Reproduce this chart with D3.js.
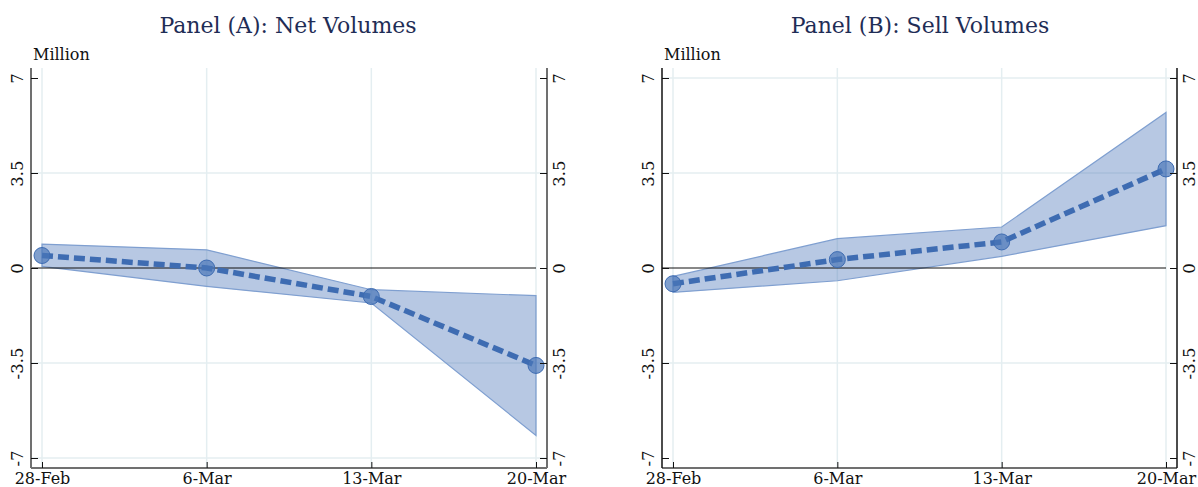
<!DOCTYPE html>
<html><head><meta charset="utf-8">
<script src="https://cdn.jsdelivr.net/npm/d3@7"></script>
<style>body{margin:0;background:#fff}svg{display:block}</style>
</head><body>
<svg id="c" width="1198" height="487"></svg>
<script>
const dates = ["28-Feb","6-Mar","13-Mar","20-Mar"];
const yTicks = [-7,-3.5,0,3.5,7];
const yTickLabels = ["-7","-3.5","0","3.5","7"];
const titles = ["Panel (A): Net Volumes","Panel (B): Sell Volumes"];
const unitLabel = "Million";
const netEst  = [0.46, 0.00, -1.05, -3.59];
const netLow  = [0.06, -0.68, -1.29, -6.17];
const netHigh = [0.88, 0.67, -0.80, -1.02];
const sellEst  = [-0.58, 0.31, 0.96, 3.65];
const sellLow  = [-0.90, -0.47, 0.43, 1.56];
const sellHigh = [-0.31, 1.08, 1.51, 5.73];

const svg = d3.select("#c");
const FONT = "DejaVu Serif, Liberation Serif, serif";
const panels = [
  {title:titles[0], est:netEst, low:netLow, high:netHigh, left:31, right:547, x0:42, x1:536, cx:288, axisCol:"#707070", axisW:2, gridSkip:7},
  {title:titles[1], est:sellEst, low:sellLow, high:sellHigh, left:662, right:1177, x0:673, x1:1166, cx:920, axisCol:"#111", axisW:1.5, gridSkip:-7}
];
const plotTop=68, plotBottom=468;
const y = d3.scaleLinear().domain([-7,7]).range([458,78]);

panels.forEach(p=>{
  const g = svg.append("g");
  const x = d3.scalePoint().domain(dates).range([p.x0,p.x1]);
  g.selectAll(".vg").data(dates).join("line")
    .attr("x1",d=>x(d)).attr("x2",d=>x(d)).attr("y1",plotTop).attr("y2",plotBottom)
    .attr("stroke","#e4eef1").attr("stroke-width",1.5);
  g.selectAll(".hg").data(yTicks.filter(t=>t!==0 && t!==p.gridSkip)).join("line")
    .attr("x1",p.left).attr("x2",p.right).attr("y1",d=>y(d)).attr("y2",d=>y(d))
    .attr("stroke","#e4eef1").attr("stroke-width",1.5);
  const idx = d3.range(dates.length);
  const area = d3.area().x(i=>x(dates[i])).y0(i=>y(p.low[i])).y1(i=>y(p.high[i]));
  g.append("path").datum(idx).attr("d",area)
    .attr("fill","#4a76b8").attr("fill-opacity",0.4)
    .attr("stroke","#7f9fd0").attr("stroke-width",1.2);
  g.append("line").attr("x1",p.left).attr("x2",p.x1).attr("y1",y(0)).attr("y2",y(0))
    .attr("stroke","#111").attr("stroke-width",1);
  const line = d3.line().x(i=>x(dates[i])).y(i=>y(p.est[i]));
  g.append("path").datum(idx).attr("d",line).attr("fill","none")
    .attr("stroke","#3e6cb2").attr("stroke-width",5.5).attr("stroke-dasharray","11,5");
  g.selectAll(".pt").data(idx).join("circle")
    .attr("cx",i=>x(dates[i])).attr("cy",i=>y(p.est[i])).attr("r",8)
    .attr("fill","#4a76b8").attr("fill-opacity",0.7).attr("stroke","#3e6cb2").attr("stroke-width",1);
  const xa = g.append("g").attr("transform",`translate(0,${plotBottom})`)
    .call(d3.axisBottom(x).tickSize(-6));
  xa.select(".domain").attr("d",`M${p.left},0H${p.right}`).attr("stroke","#707070").attr("stroke-width",2);
  xa.selectAll(".tick line").attr("stroke","#111");
  xa.selectAll("text").attr("font-family",FONT).attr("font-size",16).attr("fill","#111")
    .attr("y",16).attr("dy",0);

  const la = g.append("g").attr("transform",`translate(${p.left},0)`)
    .call(d3.axisLeft(y).tickValues(yTicks).tickFormat((d,i)=>yTickLabels[i]).tickSize(-7));
  la.select(".domain").attr("d",`M0,${plotTop}V${plotBottom}`).attr("stroke",p.axisCol).attr("stroke-width",p.axisW);
  la.selectAll(".tick line").attr("stroke","#111");
  la.selectAll("text").attr("font-family",FONT).attr("font-size",16.5).attr("fill","#111")
    .attr("transform","rotate(-90)").attr("x",0).attr("y",-8).attr("dy",0).attr("text-anchor","middle");

  const ra = g.append("g").attr("transform",`translate(${p.right},0)`)
    .call(d3.axisRight(y).tickValues(yTicks).tickFormat((d,i)=>yTickLabels[i]).tickSize(-7));
  ra.select(".domain").attr("d",`M0,${plotTop}V${plotBottom}`).attr("stroke",p.axisCol).attr("stroke-width",p.axisW);
  ra.selectAll(".tick line").attr("stroke","#111");
  ra.selectAll("text").attr("font-family",FONT).attr("font-size",16.5).attr("fill","#111")
    .attr("transform","rotate(-90)").attr("x",0).attr("y",18).attr("dy",0).attr("text-anchor","middle");

  g.append("text").attr("x",p.cx).attr("y",33).attr("text-anchor","middle")
    .attr("font-family",FONT).attr("font-size",22).attr("fill","#1f2d56").text(p.title);
  g.append("text").attr("x",p.left+2).attr("y",60).attr("font-family",FONT).attr("font-size",16)
    .attr("fill","#111").text(unitLabel);
});
</script>
</body></html>
